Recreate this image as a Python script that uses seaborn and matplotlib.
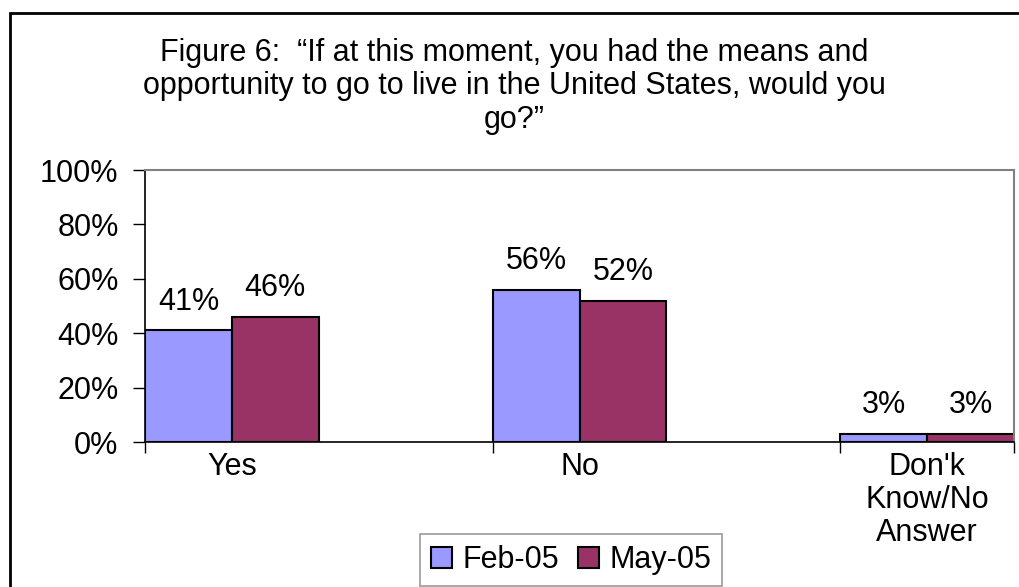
import numpy as np
import pandas as pd
import matplotlib.pyplot as plt
import seaborn as sns
from matplotlib.patches import Rectangle

# chart data
categories = ["Yes", "No", "Don'k\nKnow/No\nAnswer"]
periods = ["Feb-05", "May-05"]
feb_values = [41, 56, 3]
may_values = [46, 52, 3]
y_ticks = [0, 20, 40, 60, 80, 100]
title = "Figure 6:  \u201cIf at this moment, you had the means and\nopportunity to go to live in the United States, would you\ngo?\u201d"

df = pd.DataFrame({
    "category": categories * 2,
    "period": [periods[0]] * 3 + [periods[1]] * 3,
    "value": feb_values + may_values,
})

sns.set_theme(style="white")
plt.rcParams['font.family'] = ['Liberation Sans', 'DejaVu Sans']
plt.rcParams['text.color'] = 'black'
plt.rcParams['xtick.labelcolor'] = 'black'
plt.rcParams['ytick.labelcolor'] = 'black'

FS = 22

fig = plt.figure(figsize=(10.19, 5.87), dpi=100)
ax = fig.add_axes([145 / 1019, 1 - 442 / 587, (1014 - 145) / 1019, (442 - 170) / 587])

colors = {"Feb-05": "#9999FF", "May-05": "#993366"}
sns.barplot(data=df, x="category", y="value", hue="period", palette=colors,
            width=0.5, gap=0, edgecolor="black", linewidth=1.5, ax=ax,
            legend=True, saturation=1)

# value labels over bars
for cont in ax.containers:
    ax.bar_label(cont, labels=[f"{v:.0f}%" for v in cont.datavalues],
                 padding=10, fontsize=FS, color="black")

ax.set_xlim(-0.25, 2.25)
ax.set_ylim(0, 100)
ax.set_yticks(y_ticks)
ax.set_yticklabels([f"{t}%" for t in y_ticks], fontsize=FS)
ax.tick_params(axis="y", direction="out", length=9, width=1, color="black",
               left=True, pad=10)
ax.set_xticks(range(len(categories)))
ax.set_xticklabels(categories, fontsize=FS, linespacing=1.13)
ax.tick_params(axis="x", which="major", length=0, pad=7)
ax.set_xticks([-0.25, 0.75, 1.75, 2.25], minor=True)
ax.tick_params(axis="x", which="minor", direction="out", length=8, width=1,
               color="black", bottom=True)
ax.set_xlabel("")
ax.set_ylabel("")

for side in ["top", "right"]:
    ax.spines[side].set_color("#808080")
    ax.spines[side].set_linewidth(1.5)
for side in ["left", "bottom"]:
    ax.spines[side].set_color("black")
    ax.spines[side].set_linewidth(1.2)

fig.text(514 / 1019, 1 - 38 / 587, title, ha="center", va="top",
         fontsize=FS, linespacing=1.15, color="black")

# legend at the bottom
handles, labels = ax.get_legend_handles_labels()
ax.legend(handles, labels, loc="center", bbox_to_anchor=(571 / 1019, 1 - 560 / 587),
          bbox_transform=fig.transFigure, ncol=2, fontsize=FS, frameon=True,
          fancybox=False, edgecolor="#808080", handlelength=0.7, handleheight=0.7,
          handletextpad=0.35, columnspacing=0.6, borderpad=0.35, labelcolor="black")
ax.get_legend().get_frame().set_linewidth(1.2)

# outer chart border
fig.add_artist(Rectangle((10 / 1019, -0.1), 1.2, (1 - 13 / 587) + 0.1,
                         transform=fig.transFigure, fill=False,
                         edgecolor="black", linewidth=2))

fig.savefig("out.png", dpi=100)
